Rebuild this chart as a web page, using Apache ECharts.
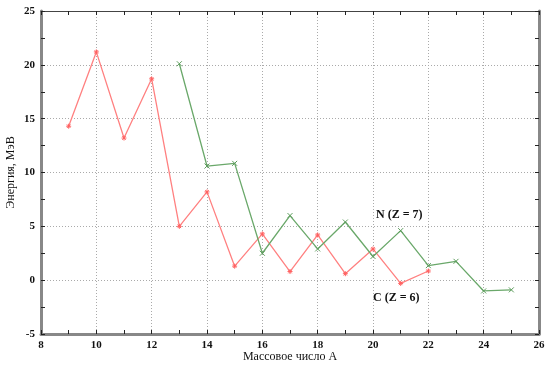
<!DOCTYPE html>
<html><head><meta charset="utf-8">
<script src="https://cdn.jsdelivr.net/npm/echarts@6/dist/echarts.min.js"></script>
<style>html,body{margin:0;padding:0;background:#fff}#c{width:554px;height:366px}</style>
</head><body><div id="c"></div>
<script>
const massC = [9,10,11,12,13,14,15,16,17,18,19,20,21,22];
const energyC = [14.3,21.2,13.2,18.7,5.0,8.2,1.3,4.3,0.8,4.2,0.6,2.9,-0.3,0.85];
const massN = [13,14,15,16,17,18,19,20,21,22,23,24,25];
const energyN = [20.1,10.6,10.85,2.5,6.0,2.9,5.4,2.2,4.6,1.35,1.75,-1.0,-0.9];
const xTicks = [8,10,12,14,16,18,20,22,24,26];
const yTicks = [-5,0,5,10,15,20,25];

const FONT = '"Liberation Serif", "DejaVu Serif", serif';
const star = 'path://M0,-5L0,5M-5,0L5,0M-3.5,-3.5L3.5,3.5M-3.5,3.5L3.5,-3.5';
const cross = 'path://M-4,-4L4,4M-4,4L4,-4';

const chart = echarts.init(document.getElementById('c'));
const grid = {left:41, right:15, top:11, bottom:32, containLabel:false, outerBoundsMode:'none'};
const xBase = {
  type:'value', min:8, max:26, interval:2,
  axisLine:{show:true, onZero:false, lineStyle:{color:'#888', width:3}},
  axisTick:{show:true, inside:true, length:4, lineStyle:{color:'#222', width:1}},
  minorTick:{show:true, splitNumber:2, length:4, lineStyle:{color:'#222', width:1}},
};
const yBase = {
  type:'value', min:-5, max:25, interval:5,
  axisLine:{show:true, onZero:false, lineStyle:{color:'#888', width:3}},
  axisTick:{show:true, inside:true, length:4, lineStyle:{color:'#222', width:1}},
  minorTick:{show:true, splitNumber:2, length:4, lineStyle:{color:'#222', width:1}},
};
chart.setOption({
  animation:false,
  grid: grid,
  xAxis: [
    Object.assign({}, xBase, {
      position:'bottom',
      name:'Массовое число А', nameLocation:'middle', nameGap:17, nameMoveOverlap:false,
      nameTextStyle:{fontFamily:FONT, fontSize:12, color:'#111'},
      axisLabel:{fontFamily:FONT, fontSize:11, fontWeight:'bold', color:'#111', margin:6,
        formatter: v => xTicks.includes(v) ? String(v) : ''},
      splitLine:{show:true, lineStyle:{color:'#aaa', type:[1,2], width:1}}
    }),
    Object.assign({}, xBase, {
      position:'top',
      axisLine:{show:true, onZero:false, lineStyle:{color:'#444', width:1}},
      axisLabel:{show:false}, splitLine:{show:false}
    })
  ],
  yAxis: [
    Object.assign({}, yBase, {
      position:'left',
      name:'Энергия, МэВ', nameLocation:'middle', nameGap:24, nameMoveOverlap:false,
      nameTextStyle:{fontFamily:FONT, fontSize:12, color:'#111'},
      axisLabel:{fontFamily:FONT, fontSize:11, fontWeight:'bold', color:'#111', margin:6,
        formatter: v => yTicks.includes(v) ? String(v) : ''},
      splitLine:{show:true, lineStyle:{color:'#aaa', type:[1,2], width:1}}
    }),
    Object.assign({}, yBase, {
      position:'right',
      axisLabel:{show:false}, splitLine:{show:false}
    })
  ],
  series: [
    {
      name:'C (Z = 6)', type:'line', xAxisIndex:0, yAxisIndex:0,
      data: massC.map((m,i)=>[m, energyC[i]]),
      symbol: star, symbolSize:5,
      lineStyle:{color:'#ff8080', width:1.3},
      itemStyle:{color:'#ff6060', borderColor:'#ff6060', borderWidth:1}
    },
    {
      name:'N (Z = 7)', type:'line', xAxisIndex:0, yAxisIndex:0,
      data: massN.map((m,i)=>[m, energyN[i]]),
      symbol: cross, symbolSize:5,
      lineStyle:{color:'#6aa86a', width:1.3},
      itemStyle:{color:'#5c9c5c', borderColor:'#5c9c5c', borderWidth:1}
    }
  ],
  graphic: [
    {type:'text', left:376, top:209, style:{text:'N (Z = 7)', font:'bold 12px '+FONT, fill:'#111'}},
    {type:'text', left:373, top:292, style:{text:'C (Z = 6)', font:'bold 12px '+FONT, fill:'#111'}}
  ]
});
</script></body></html>
